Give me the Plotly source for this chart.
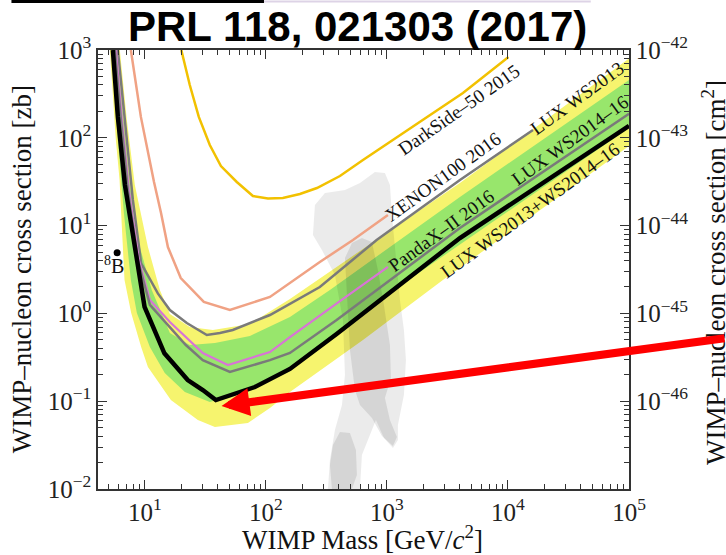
import numpy as np
import plotly.graph_objects as go

# ---------------------------------------------------------------
# Spin-independent WIMP-nucleon limits: mass [GeV/c^2], cross section [zb]
# ---------------------------------------------------------------
lux_comb_mass = [5.44, 5.98, 6.84, 8.22, 9.94, 14.5, 22.6, 30.1, 38.6, 81.1, 158, 384, 1550, 4010, 100000]
lux_comb_xs = [1000, 173, 29.0, 5.75, 1.19, 0.351, 0.174, 0.134, 0.103, 0.145, 0.233, 0.582, 2.60, 7.22, 137]

lux2013_mass = [5.98, 6.84, 7.96, 9.32, 12.8, 16.1, 22.2, 32.5, 41.7, 53.3, 108, 279, 822, 4010, 16100]
lux2013_xs = [1000, 160, 19.6, 3.72, 1.69, 1.093, 0.778, 0.567, 0.598, 0.647, 0.959, 2.00, 6.85, 33.0, 123]

lux1416_mass = [5.65, 6.34, 7.24, 8.75, 11.0, 16.1, 21.8, 30.1, 50.4, 108, 158, 384, 4010, 100000]
lux1416_xs = [1000, 160, 25.4, 4.06, 1.25, 0.700, 0.436, 0.294, 0.215, 0.294, 0.354, 0.841, 9.40, 188]

pandax_mass = [5.76, 6.46, 7.38, 8.92, 11.0, 16.1, 30.1, 48.5, 108, 158, 409, 1019]
pandax_xs = [1000, 160, 25.4, 4.06, 1.42, 0.798, 0.354, 0.258, 0.363, 0.538, 1.38, 3.38]

xenon_mass = [7.66, 9.27, 11.9, 13.6, 15.5, 19.8, 30.7, 50.4, 108, 158, 279, 524, 1019]
xenon_xs = [1000, 173, 31.4, 13.9, 5.70, 2.53, 1.35, 1.093, 1.54, 2.22, 3.85, 6.85, 13.2]

darkside_mass = [20.0, 23.5, 27.9, 34.4, 42.5, 57.5, 78.1, 104, 138, 191, 264, 409, 634, 1641, 4246, 10100]
darkside_xs = [1000, 399, 173, 82.8, 47.7, 31.4, 21.7, 20.4, 20.6, 22.9, 26.8, 36.7, 55.8, 133, 324, 832]

# Expected-sensitivity bands (+-1 sigma green, +-2 sigma yellow)
band2_hi_mass = [6.21, 7.10, 8.26, 10.6, 13.3, 16.1, 23.5, 36.5, 73.8, 158, 811, 4010, 100000]
band2_hi_xs = [1000, 160, 29.0, 5.70, 1.85, 0.984, 0.700, 0.647, 0.757, 1.46, 6.85, 30.5, 800]
band2_lo_mass = [5.14, 5.76, 6.18, 6.37, 6.79, 7.71, 9.32, 10.6, 16.4, 27.4, 37.9, 71.0, 108, 158, 634, 2900, 100000]
band2_lo_xs = [1000, 94.4, 33.0, 13.9, 2.40, 1.01, 0.414, 0.245, 0.103, 0.0611, 0.0508, 0.0565, 0.0838, 0.127, 0.497, 2.40, 80.7]
band1_hi_mass = [5.87, 6.71, 7.52, 9.09, 11.4, 16.1, 23.5, 37.9, 73.8, 158, 338, 4010, 100000]
band1_hi_xs = [1000, 160, 29.0, 5.70, 1.85, 0.598, 0.436, 0.460, 0.553, 0.910, 1.85, 21.2, 455]
band1_lo_mass = [5.34, 5.98, 6.71, 7.66, 8.59, 11.0, 14.6, 21.4, 34.4, 73.8, 158, 1550, 100000]
band1_lo_xs = [1000, 94.4, 13.9, 2.40, 1.01, 0.414, 0.209, 0.127, 0.098, 0.134, 0.221, 2.47, 129]

# Theory-favoured region (grey silhouette)
region_mass = [244.6, 254.1, 307.3, 449.8, 598.4, 795.8, 962.7, 1059, 1100, 1187, 1281, 1382, 1436, 1382,
               1233, 1233, 1121, 944.5, 811.1, 723.7, 621.6, 598.4, 325.4, 338.0, 371.7, 424.8, 449.8, 433.0,
               371.7, 290.2]
region_xs = [7.81, 17.2, 23.5, 25.4, 30.6, 40.8, 39.7, 29.0, 13.2, 4.06, 1.42, 0.647, 0.294, 0.118,
             0.0536, 0.0361, 0.0293, 0.0381, 0.0611, 0.0412, 0.0244, 0.01, 0.01, 0.0214, 0.0470, 0.0905, 0.199,
             0.841, 2.74, 5.27]
core_mass = [449.8, 513.8, 621.6, 751.6, 842.5, 944.5, 1059, 1079, 962.7, 1059, 1209, 1121, 909.4, 751.6,
             598.4, 543.9, 494.7, 467.3]
core_xs = [4.28, 6.34, 7.22, 6.50, 3.12, 1.25, 0.437, 0.184, 0.109, 0.0611, 0.0391, 0.0309, 0.0401, 0.0644,
           0.0905, 0.134, 0.383, 1.42]
foot_mass = [357.9, 408.9, 494.7, 554.4, 565.1, 513.8, 351.2, 338.0]
foot_xs = [0.0317, 0.0446, 0.0434, 0.0278, 0.0144, 0.01, 0.01, 0.0188]

# 8B solar-neutrino point
b8_mass = [5.9]
b8_xs = [4.9]

# Axis ticks
x_ticks = [10, 100, 1000, 10000, 100000]
x_labels = ["10<sup>1</sup>", "10<sup>2</sup>", "10<sup>3</sup>", "10<sup>4</sup>", "10<sup>5</sup>"]
y_ticks = [0.01, 0.1, 1, 10, 100, 1000]
y_labels = ["10<sup>\u22122</sup>", "10<sup>\u22121</sup>", "10<sup>0</sup>", "10<sup>1</sup>",
            "10<sup>2</sup>", "10<sup>3</sup>"]
y2_ticks = [1e-46, 1e-45, 1e-44, 1e-43, 1e-42]
y2_labels = ["10<sup>\u221246</sup>", "10<sup>\u221245</sup>", "10<sup>\u221244</sup>",
             "10<sup>\u221243</sup>", "10<sup>\u221242</sup>"]

X_MIN = 4.1
ZB_TO_CM2 = 1e-45

YELLOW = "#f6f46e"
GREEN = "#98e66c"
GREY_LINE = "#7a7a7a"
SERIF = "Liberation Serif, Times New Roman, serif"
FRAME = "#333333"

fig = go.Figure()


def band(hi_m, hi_s, lo_m, lo_s, color):
    fig.add_trace(go.Scatter(
        x=list(hi_m) + list(lo_m)[::-1], y=list(hi_s) + list(lo_s)[::-1],
        mode="lines", fill="toself", fillcolor=color, line=dict(width=0),
        hoverinfo="skip", showlegend=False))


band(band2_hi_mass, band2_hi_xs, band2_lo_mass, band2_lo_xs, YELLOW)
band(band1_hi_mass, band1_hi_xs, band1_lo_mass, band1_lo_xs, GREEN)

for m, s, a in [(region_mass, region_xs, 0.08), (core_mass, core_xs, 0.09), (foot_mass, foot_xs, 0.09)]:
    fig.add_trace(go.Scatter(x=m + m[:1], y=s + s[:1], mode="lines", fill="toself",
                             fillcolor=f"rgba(0,0,0,{a})", line=dict(width=0),
                             hoverinfo="skip", showlegend=False))


def curve(m, s, color, width):
    fig.add_trace(go.Scatter(x=m, y=s, mode="lines", line=dict(color=color, width=width),
                             hoverinfo="skip", showlegend=False))


curve(darkside_mass, darkside_xs, "#f2c100", 2.5)
curve(xenon_mass, xenon_xs, "#f0a284", 2.5)
curve(lux2013_mass, lux2013_xs, GREY_LINE, 2.5)
curve(pandax_mass, pandax_xs, "#d874d6", 2.2)
curve(lux1416_mass, lux1416_xs, GREY_LINE, 2.5)
curve(lux_comb_mass, lux_comb_xs, "black", 4.5)

fig.add_trace(go.Scatter(x=b8_mass, y=b8_xs, mode="markers",
                         marker=dict(color="black", size=7), hoverinfo="skip", showlegend=False))

# anchor trace for the mirrored top / right (cm^2) axes
fig.add_trace(go.Scatter(x=[1000], y=[1e-45], mode="markers", marker=dict(opacity=0),
                         xaxis="x2", yaxis="y2", hoverinfo="skip", showlegend=False))


def minor_vals(e0, e1):
    return [m * 10.0 ** e for e in range(e0, e1) for m in range(2, 10)]


axis_common = dict(type="log", showgrid=False, zeroline=False, showline=True, linecolor=FRAME,
                   linewidth=1.5, ticks="inside", ticklen=9, tickwidth=1, tickcolor=FRAME,
                   tickfont=dict(family=SERIF, size=25, color="#222222"))

x_range = [np.log10(X_MIN), 5]
fig.update_layout(
    width=726, height=555, autosize=False,
    margin=dict(l=98, r=97, t=50, b=66),
    paper_bgcolor="white", plot_bgcolor="white", showlegend=False,
    xaxis=dict(**axis_common, range=x_range, tickmode="array", tickvals=x_ticks, ticktext=x_labels,
               minor=dict(tickmode="array", tickvals=minor_vals(0, 5), ticks="inside", ticklen=5,
                          tickcolor=FRAME)),
    yaxis=dict(**axis_common, range=[-2, 3], tickmode="array", tickvals=y_ticks, ticktext=y_labels,
               minor=dict(tickmode="array", tickvals=minor_vals(-2, 3), ticks="inside", ticklen=5,
                          tickcolor=FRAME)),
    xaxis2=dict(**axis_common, range=x_range, overlaying="x", side="top", anchor="y",
                showticklabels=False, tickmode="array", tickvals=x_ticks,
                minor=dict(tickmode="array", tickvals=minor_vals(0, 5), ticks="inside", ticklen=5,
                           tickcolor=FRAME)),
    yaxis2=dict(**axis_common, range=[np.log10(0.01 * ZB_TO_CM2), np.log10(1000 * ZB_TO_CM2)],
                overlaying="y", side="right", anchor="x", tickmode="array", tickvals=y2_ticks,
                ticktext=y2_labels,
                minor=dict(tickmode="array", tickvals=minor_vals(-47, -42), ticks="inside", ticklen=5,
                           tickcolor=FRAME)),
)

annotations = []


def label(text, x, y, angle=-36, size=19):
    annotations.append(dict(text=text, x=x, y=y, xref="paper", yref="paper", showarrow=False,
                            textangle=angle, xanchor="center", yanchor="middle",
                            font=dict(family=SERIF, size=size, color="#111111")))


label("DarkSide\u201350 2015", 0.6798, 0.8656, angle=-35)
label("XENON100 2016", 0.6503, 0.7114)
label("LUX WS2013", 0.9015, 0.8900)
label("PandaX\u2013II 2016", 0.6473, 0.5880)
label("LUX WS2014\u201316", 0.8889, 0.7932)
label("LUX WS2013+WS2014\u201316", 0.8132, 0.6355)
label("<sup>8</sup>B", 0.0301, 0.510, angle=0, size=20)

# axis titles
label("WIMP Mass [GeV/<i>c</i><sup>2</sup>]", 0.499, -0.112, angle=0, size=27)
label("WIMP\u2013nucleon cross section [zb]", -0.143, 0.501, angle=-90, size=27)
label("WIMP\u2013nucleon cross section [cm<sup>2</sup>]", 1.160, 0.494, angle=-90, size=27)

# headline
annotations.append(dict(text="<b>PRL 118, 021303 (2017)</b>", x=0.4896, y=1.0524, xref="paper",
                        yref="paper", showarrow=False, xanchor="center", yanchor="middle",
                        font=dict(family="Liberation Sans, Arial, sans-serif", size=42, color="black")))

# red pointer to the minimum of the combined LUX limit
annotations.append(dict(text="", x=np.log10(43.0), y=np.log10(0.0882), xref="x", yref="y",
                        showarrow=True, ax=514, ay=-68, arrowcolor="#ff0000", arrowwidth=8,
                        arrowhead=2, arrowsize=0.7, standoff=0))

fig.update_layout(annotations=annotations)

fig.update_layout(shapes=[
    dict(type="line", xref="paper", yref="paper", x0=-0.163, x1=0.3126, y0=1.1105, y1=1.1105,
         line=dict(color="black", width=3)),
    dict(type="line", xref="paper", yref="paper", x0=0.3126, x1=0.928, y0=1.1105, y1=1.1105,
         line=dict(color="#ddd3e6", width=2)),
])

fig.write_html("out.html")
